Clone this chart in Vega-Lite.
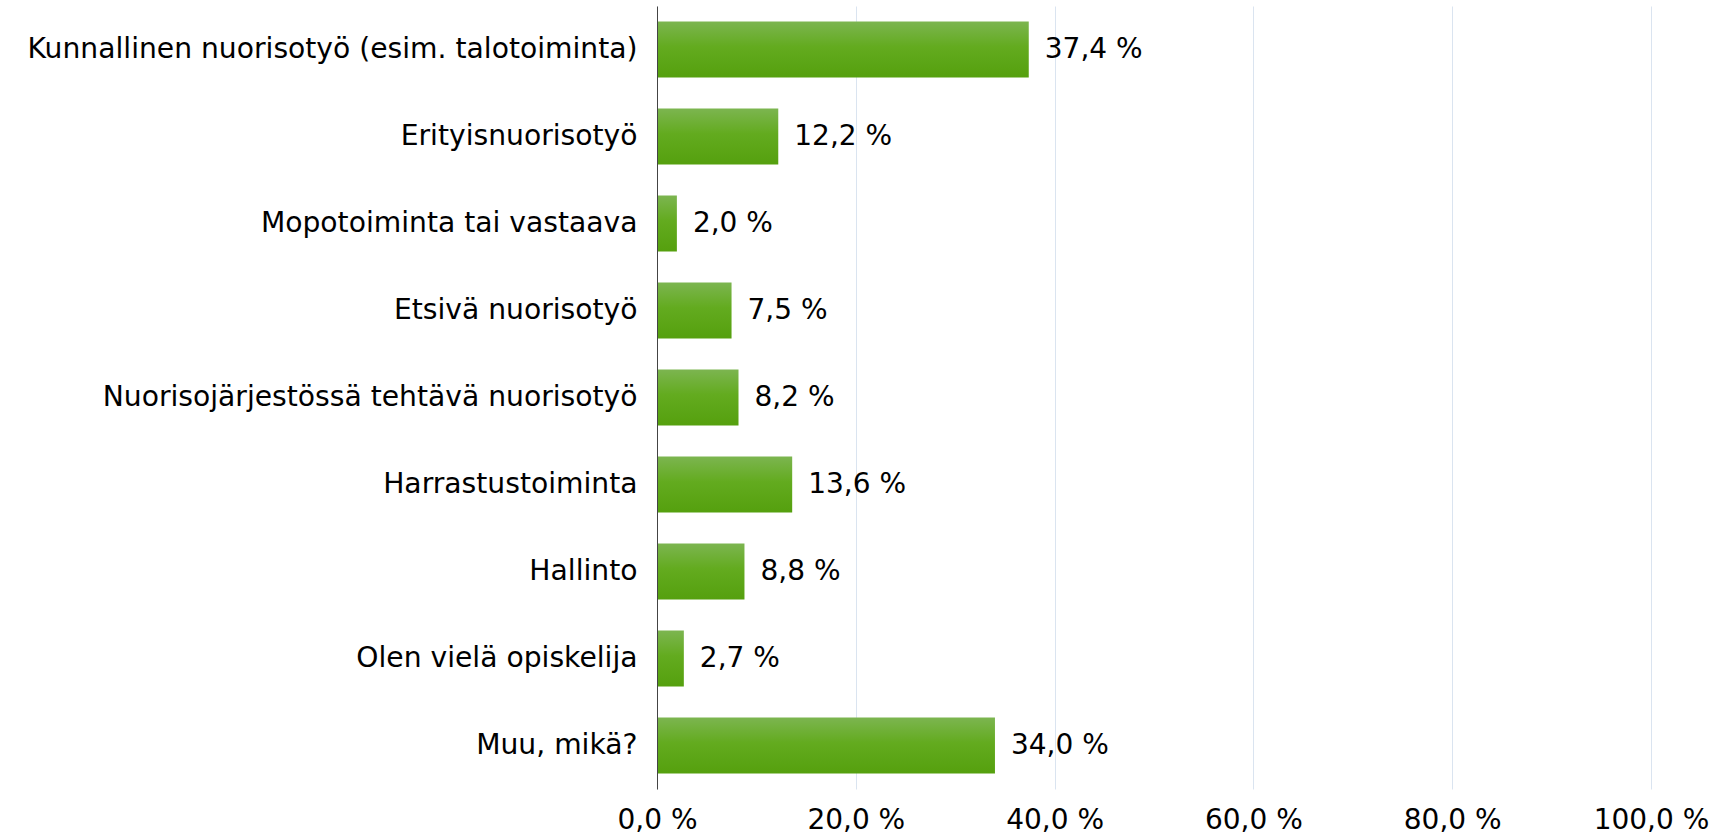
{
  "$schema": "https://vega.github.io/schema/vega-lite/v6.json",
  "autosize": "none",
  "width": 994,
  "height": 783,
  "padding": {"left": 657, "top": 6, "right": 62, "bottom": 49},
  "background": "white",
  "config": {
    "view": {"stroke": null},
    "font": "DejaVu Sans"
  },
  "data": {
    "values": [
      {"kategoria": "Kunnallinen nuorisotyö (esim. talotoiminta)", "osuus": 37.4},
      {"kategoria": "Erityisnuorisotyö", "osuus": 12.2},
      {"kategoria": "Mopotoiminta tai vastaava", "osuus": 2.0},
      {"kategoria": "Etsivä nuorisotyö", "osuus": 7.5},
      {"kategoria": "Nuorisojärjestössä tehtävä nuorisotyö", "osuus": 8.2},
      {"kategoria": "Harrastustoiminta", "osuus": 13.6},
      {"kategoria": "Hallinto", "osuus": 8.8},
      {"kategoria": "Olen vielä opiskelija", "osuus": 2.7},
      {"kategoria": "Muu, mikä?", "osuus": 34.0}
    ]
  },
  "transform": [
    {"calculate": "replace(format(datum.osuus, '.1f'), '.', ',') + ' %'", "as": "teksti"}
  ],
  "encoding": {
    "y": {
      "field": "kategoria",
      "type": "nominal",
      "sort": null,
      "title": null,
      "scale": {"paddingInner": 0.356, "paddingOuter": 0.178},
      "axis": {
        "ticks": false,
        "domain": true,
        "domainColor": "#444444",
        "domainWidth": 1,
        "zindex": 1,
        "labelPadding": 20,
        "labelFont": "DejaVu Sans",
        "labelFontSize": 28.2,
        "labelColor": "#000000",
        "labelLimit": 700,
        "grid": false
      }
    },
    "x": {
      "field": "osuus",
      "type": "quantitative",
      "title": null,
      "scale": {"domain": [0, 100], "nice": false},
      "axis": {
        "values": [0, 20, 40, 60, 80, 100],
        "labelExpr": "replace(format(datum.value, '.1f'), '.', ',') + ' %'",
        "domain": false,
        "ticks": false,
        "grid": true,
        "gridColor": "#dae4f0",
        "gridWidth": 1,
        "labelPadding": 17,
        "labelFont": "DejaVu Sans",
        "labelFontSize": 28,
        "labelColor": "#000000",
        "labelFlush": false,
        "labelOverlap": false
      }
    }
  },
  "layer": [
    {
      "mark": {
        "type": "bar",
        "color": {
          "gradient": "linear",
          "x1": 0, "y1": 0, "x2": 0, "y2": 1,
          "stops": [
            {"offset": 0, "color": "#7cb550"},
            {"offset": 0.45, "color": "#63ab1f"},
            {"offset": 1, "color": "#55a00e"}
          ]
        }
      }
    },
    {
      "mark": {
        "type": "text",
        "align": "left",
        "baseline": "middle",
        "dx": 16,
        "font": "DejaVu Sans",
        "fontSize": 28,
        "color": "#000000"
      },
      "encoding": {
        "text": {"field": "teksti", "type": "nominal"}
      }
    }
  ]
}
